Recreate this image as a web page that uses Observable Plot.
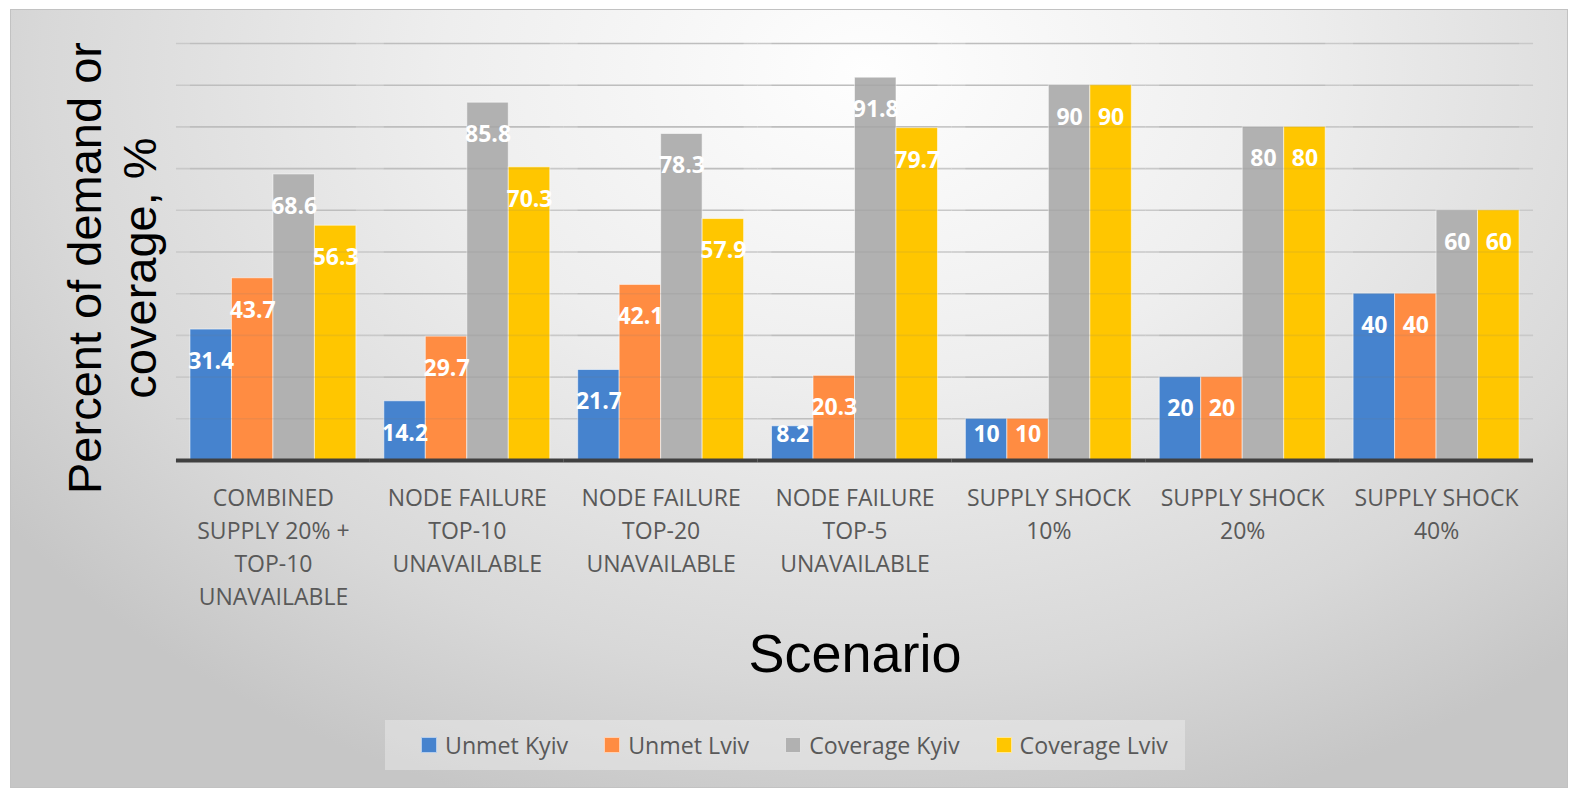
<!DOCTYPE html>
<html>
<head>
<meta charset="utf-8">
<script src="https://cdn.jsdelivr.net/npm/d3@7"></script>
<script src="https://cdn.jsdelivr.net/npm/@observablehq/plot@0.6"></script>
<style>
html, body { margin: 0; padding: 0; background: #ffffff; }
#wrap { position: relative; width: 1576px; height: 798px; overflow: hidden; }
#bg {
  position: absolute; left: 10px; top: 9px; width: 1556px; height: 777px;
  border: 1px solid #c2c2c2;
  background: radial-gradient(ellipse 68% 100% at 55% 8%, #fefefe 0%, #eeeeee 40%, #d8d8d8 78%, #c6c6c6 100%);
}
#chart { position: absolute; left: 0; top: 0; }
#ytitle {
  position: absolute; left: -188px; top: 213px; width: 600px; height: 110px;
  transform: rotate(-90deg); transform-origin: 50% 50%;
  font-family: "Liberation Sans", Arial, sans-serif; font-size: 47px; line-height: 55px;
  text-align: center; color: #000;
}
#xtitle {
  position: absolute; left: 655px; top: 626px; width: 400px; text-align: center;
  font-family: "Liberation Sans", Arial, sans-serif; font-size: 54px; line-height: 54px; color: #000;
}
#legend {
  position: absolute; left: 385px; top: 720px; width: 800px; height: 50px;
  background: rgba(250,250,250,0.35);
  display: flex; align-items: center; padding-left: 36px; box-sizing: border-box;
  font-family: "Open Sans", sans-serif; font-size: 23.2px; color: #595959;
  white-space: nowrap;
}
#legend .item { display: flex; align-items: center; margin-right: 36px; flex: 0 0 auto; white-space: nowrap; }
#legend .sw { width: 14px; height: 14px; margin-right: 8px; border: 1px solid rgba(255,255,255,0.6); flex: 0 0 auto; }
</style>
</head>
<body>
<div id="wrap">
  <div id="bg"></div>
  <div id="chart"></div>
  <div id="ytitle">Percent of demand or<br>coverage, %</div>
  <div id="xtitle">Scenario</div>
  <div id="legend"></div>
</div>
<script>
// ---- data ----
const scenarios = [
  "Combined supply 20% + top-10 unavailable",
  "Node failure top-10 unavailable",
  "Node failure top-20 unavailable",
  "Node failure top-5 unavailable",
  "Supply shock 10%",
  "Supply shock 20%",
  "Supply shock 40%"
];
const tickLabels = [
  "COMBINED\nSUPPLY 20% +\nTOP-10\nUNAVAILABLE",
  "NODE FAILURE\nTOP-10\nUNAVAILABLE",
  "NODE FAILURE\nTOP-20\nUNAVAILABLE",
  "NODE FAILURE\nTOP-5\nUNAVAILABLE",
  "SUPPLY SHOCK\n10%",
  "SUPPLY SHOCK\n20%",
  "SUPPLY SHOCK\n40%"
];
const series = ["Unmet Kyiv", "Unmet Lviv", "Coverage Kyiv", "Coverage Lviv"];
const unmetKyiv    = [31.4, 14.2, 21.7, 8.2, 10, 20, 40];
const unmetLviv    = [43.7, 29.7, 42.1, 20.3, 10, 20, 40];
const coverageKyiv = [68.6, 85.8, 78.3, 91.8, 90, 80, 60];
const coverageLviv = [56.3, 70.3, 57.9, 79.7, 90, 80, 60];
const colors = ["#4683CE", "#FF8C42", "#B1B1B1", "#FFC600"];
const yGrid = [10, 20, 30, 40, 50, 60, 70, 80, 90, 100];

const valuesBySeries = [unmetKyiv, unmetLviv, coverageKyiv, coverageLviv];
const data = [];
scenarios.forEach((s, i) => {
  series.forEach((k, j) => data.push({scenario: s, series: k, value: valuesBySeries[j][i]}));
});
const tickMap = new Map(scenarios.map((s, i) => [s, tickLabels[i]]));

const chart = Plot.plot({
  width: 1576,
  height: 798,
  marginLeft: 176,
  marginRight: 43,
  marginTop: 43,
  marginBottom: 338,
  style: {background: "transparent", fontFamily: "'Open Sans', sans-serif"},
  fx: {domain: scenarios, paddingInner: 0.144, paddingOuter: 0.072, round: false, label: null},
  x: {domain: series, padding: 0, round: false, axis: null},
  y: {domain: [0, 100], axis: null},
  color: {domain: series, range: colors},
  marks: [
    Plot.ruleY(yGrid, {stroke: "#c9c9c9", strokeWidth: 1.6, insetLeft: -14, insetRight: -14}),
    Plot.barY(data, {fx: "scenario", x: "series", y: "value", fill: "series",
      stroke: "rgba(255,255,255,0.55)", strokeWidth: 1}),
    Plot.ruleY(yGrid, {stroke: "#707070", strokeOpacity: 0.12, strokeWidth: 1.6}),
    Plot.text(data, {fx: "scenario", x: "series", y: d => Math.max(d.value, 13.9), dy: 32,
      text: d => String(d.value), fill: "white", fontWeight: "bold", fontSize: 23}),
    Plot.ruleY([0], {stroke: "#404040", strokeWidth: 4, insetLeft: -14, insetRight: -14}),
    Plot.axisFx({anchor: "bottom", tickSize: 0, tickPadding: 22, fontSize: 23, lineHeight: 1.43,
      tickFormat: d => tickMap.get(d), color: "#595959", label: null})
  ]
});
document.getElementById("chart").appendChild(chart);

// legend
const legend = document.getElementById("legend");
series.forEach((s, i) => {
  const item = document.createElement("div");
  item.className = "item";
  const sw = document.createElement("span");
  sw.className = "sw";
  sw.style.background = colors[i];
  const t = document.createElement("span");
  t.textContent = s;
  item.appendChild(sw);
  item.appendChild(t);
  legend.appendChild(item);
});
</script>
</body>
</html>
